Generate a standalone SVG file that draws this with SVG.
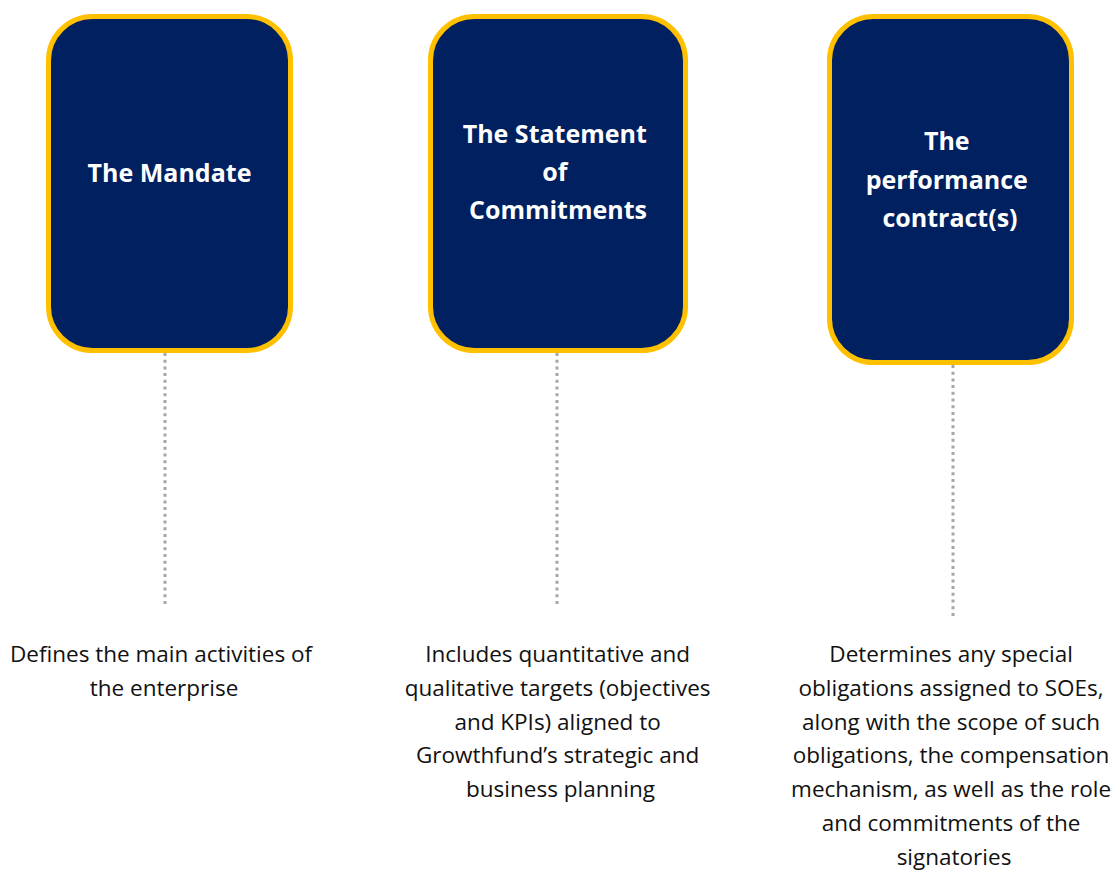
<svg xmlns="http://www.w3.org/2000/svg" width="1118" height="870" viewBox="0 0 1118 870">
  <style>
    .card { fill: #002060; stroke: #FFC000; stroke-width: 5; }
    .title { font-family: "Open Sans", "Noto Sans", sans-serif; font-weight: 700; font-size: 25px; fill: #FFFFFF; text-anchor: middle; }
    .desc { font-family: "Open Sans", "Noto Sans", sans-serif; font-size: 22.5px; fill: #111111; text-anchor: middle; }
    .link { stroke: #A6A6A6; stroke-width: 3; stroke-dasharray: 3 3.7; fill: none; }
  </style>
  <rect width="1118" height="870" fill="#FFFFFF"/>

  <!-- dotted leaders from each card down to its description -->
  <g id="connectors">
    <line class="link" x1="165" y1="353" x2="165" y2="606"/>
    <line class="link" x1="557" y1="353" x2="557" y2="606"/>
    <line class="link" x1="953" y1="365" x2="953" y2="619"/>
  </g>

  <g id="mandate">
    <rect class="card" x="48.5" y="16.5" width="242" height="334" rx="44" ry="44"/>
    <text class="title" x="169.5" y="182">The Mandate</text>
    <text class="desc" x="164" y="662">
      <tspan x="164">Defines the main activities of</tspan>
      <tspan x="164" dy="34">the enterprise</tspan>
    </text>
  </g>

  <g id="statement">
    <rect class="card" x="430.5" y="16.5" width="255" height="334" rx="44" ry="44"/>
    <text class="title" x="558" y="143">
      <tspan x="558">The Statement</tspan>
      <tspan x="558" dy="38">of</tspan>
      <tspan x="558" dy="38">Commitments</tspan>
    </text>
    <text class="desc" x="560.5" y="662">
      <tspan x="560.5">Includes quantitative and</tspan>
      <tspan x="560.5" dy="33.8">qualitative targets (objectives</tspan>
      <tspan x="560.5" dy="33.8">and KPIs) aligned to</tspan>
      <tspan x="560.5" dy="33.8">Growthfund’s strategic and</tspan>
      <tspan x="560.5" dy="33.8">business planning</tspan>
    </text>
  </g>

  <g id="contract">
    <rect class="card" x="829.5" y="16.5" width="242" height="346" rx="44" ry="44"/>
    <text class="title" x="950" y="150">
      <tspan x="950">The</tspan>
      <tspan x="950" dy="38.5">performance</tspan>
      <tspan x="950" dy="38.5">contract(s)</tspan>
    </text>
    <text class="desc" x="954" y="662">
      <tspan x="954">Determines any special</tspan>
      <tspan x="954" dy="33.8">obligations assigned to SOEs,</tspan>
      <tspan x="954" dy="33.8">along with the scope of such</tspan>
      <tspan x="954" dy="33.8">obligations, the compensation</tspan>
      <tspan x="954" dy="33.8">mechanism, as well as the role</tspan>
      <tspan x="954" dy="33.8">and commitments of the</tspan>
      <tspan x="954" dy="33.8">signatories</tspan>
    </text>
  </g>
</svg>
